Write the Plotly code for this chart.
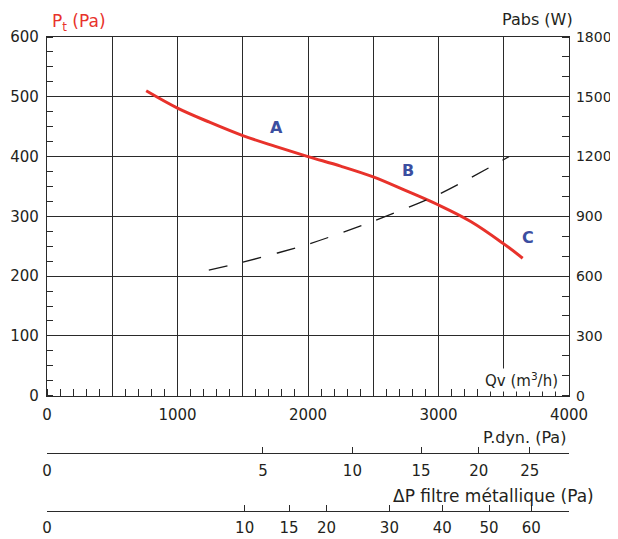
import numpy as np
import plotly.graph_objects as go

# ---- data ----
qv_pt = [760, 1000, 1250, 1500, 1750, 2000, 2250, 2500, 2750, 3000, 3250, 3500, 3645]
pt = [510, 481, 457, 435, 417, 400, 384, 366, 343, 319, 291, 254, 230]

qv_pabs = [1240, 1500, 2000, 2500, 3000, 3540]
pabs = [630, 670, 760, 876, 1010, 1200]

zone_labels = ["A", "B", "C"]
zone_qv = [1760, 2765, 3685]
zone_pt = [448, 377, 265]

x_labels = [0, 1000, 2000, 3000, 4000]
y_left_ticks = [0, 100, 200, 300, 400, 500, 600]
y_right_ticks = [0, 300, 600, 900, 1200, 1500, 1800]

pdyn_ticks = [0, 5, 10, 15, 20, 25]
dpfilt_ticks = [0, 10, 15, 20, 30, 40, 50, 60]
K_DYN = 740.0    # Qv (m3/h) per sqrt(Pa) for dynamic pressure scale
K_FILT = 479.0   # Qv (m3/h) per sqrt(Pa) for filter pressure drop scale

# ---- layout geometry (page has an 8px body margin) ----
OFF = 8
W, H = 618 - OFF, 539 - OFF
ML = 47 - OFF
MR = W - (569 - OFF)
MT = 37 - OFF
MB = H - (511 - OFF)
PW = W - ML - MR
PH = H - MT - MB


def fx(px):
    return (px - OFF - ML) / PW


def fy(py):
    return (H - MB - (py - OFF)) / PH


INK = "#231f20"
GRID = "#2a2a2a"
RED = "#e8322b"
BLUE = "#3b4ea0"
FONT = "DejaVu Sans, Verdana, sans-serif"

fig = go.Figure()

fig.add_trace(go.Scatter(
    x=qv_pt, y=pt, mode="lines", line=dict(color=RED, width=3, shape="spline", smoothing=1.0),
    hoverinfo="skip", showlegend=False, xaxis="x", yaxis="y"))

fig.add_trace(go.Scatter(
    x=qv_pabs, y=pabs, mode="lines",
    line=dict(color="#1a1a1a", width=1.3, dash="19px,16px", shape="spline", smoothing=0.8),
    hoverinfo="skip", showlegend=False, xaxis="x", yaxis="y2"))

# dummy (invisible) traces to register the extra scales
for xa in ["x2", "x3", "x4"]:
    fig.add_trace(go.Scatter(x=[0], y=[0], mode="markers", marker=dict(opacity=0),
                             hoverinfo="skip", showlegend=False, xaxis=xa, yaxis="y"))

tickfont = dict(family=FONT, size=15, color=INK)

fig.update_layout(
    template="none",
    width=W, height=H,
    margin=dict(l=ML, r=MR, t=MT, b=MB, pad=0),
    paper_bgcolor="white", plot_bgcolor="white",
    font=dict(family=FONT, color=INK),
    xaxis=dict(
        range=[0, 4000], tickmode="array", tickvals=x_labels,
        showgrid=False, zeroline=False, automargin=False,
        showline=True, linecolor=GRID, linewidth=1.3, mirror=True,
        ticks="", tickfont=tickfont, ticklabelstandoff=5,
        minor=dict(tickmode="linear", tick0=0, dtick=100, ticks="inside", ticklen=7,
                   tickcolor=GRID, tickwidth=1, showgrid=False),
        anchor="y", domain=[0, 1],
    ),
    xaxis4=dict(
        range=[0, 4000], overlaying="x", anchor="y", tickmode="linear", tick0=0, dtick=500,
        showgrid=True, gridcolor=GRID, gridwidth=1.2, zeroline=False, automargin=False,
        showticklabels=False, ticks="", showline=False,
    ),
    yaxis=dict(
        range=[0, 600], tickmode="array", tickvals=y_left_ticks,
        showgrid=True, gridcolor=GRID, gridwidth=1.2, zeroline=False, automargin=False,
        showline=True, linecolor=GRID, linewidth=1.3, mirror=True,
        ticks="", tickfont=tickfont, ticklabelstandoff=4,
        minor=dict(tickmode="linear", tick0=0, dtick=25, ticks="inside", ticklen=6,
                   tickcolor=GRID, tickwidth=1, showgrid=False),
        domain=[fy(395.7), 1], anchor="x",
    ),
    yaxis2=dict(
        range=[0, 1800], tickmode="array", tickvals=y_right_ticks,
        overlaying="y", side="right", anchor="x", automargin=False,
        showgrid=False, zeroline=False, showline=True, linecolor=GRID, linewidth=1.3,
        ticks="", tickfont=dict(family=FONT, size=14, color=INK), ticklabelstandoff=3,
        minor=dict(tickmode="linear", tick0=0, dtick=100, ticks="inside", ticklen=7,
                   tickcolor=GRID, tickwidth=1, showgrid=False),
    ),
    xaxis2=dict(
        range=[0, 4000], overlaying="x", anchor="free", position=fy(452.7), side="bottom",
        tickmode="array", tickvals=[K_DYN * np.sqrt(v) for v in pdyn_ticks],
        ticktext=[str(v) for v in pdyn_ticks], automargin=False,
        ticks="inside", ticklen=6, tickcolor=GRID, tickwidth=1, ticklabelstandoff=4,
        showgrid=False, zeroline=False, showline=True, linecolor=GRID, linewidth=1.3,
        tickfont=tickfont,
    ),
    xaxis3=dict(
        range=[0, 4000], overlaying="x", anchor="free", position=fy(511), side="bottom",
        tickmode="array", tickvals=[K_FILT * np.sqrt(v) for v in dpfilt_ticks],
        ticktext=[str(v) for v in dpfilt_ticks], automargin=False,
        ticks="inside", ticklen=6, tickcolor=GRID, tickwidth=1, ticklabelstandoff=3,
        showgrid=False, zeroline=False, showline=True, linecolor=GRID, linewidth=1.3,
        tickfont=tickfont,
    ),
)

annots = []
for lab, qx, py in zip(zone_labels, zone_qv, zone_pt):
    annots.append(dict(x=qx, y=py, xref="x", yref="y", text="<b>%s</b>" % lab, showarrow=False,
                       font=dict(family=FONT, size=16, color=BLUE)))

annots.append(dict(x=fx(50), y=1.0 + (MT - 1) / PH, xref="paper", yref="paper",
                   xanchor="left", yanchor="top",
                   text="P<sub>t</sub> (Pa)", showarrow=False,
                   font=dict(family=FONT, size=17, color=RED)))
annots.append(dict(x=fx(575), y=fy(19), xref="paper", yref="paper", xanchor="right", yanchor="middle",
                   text="Pabs (W)", showarrow=False, font=dict(family=FONT, size=16, color=INK)))
annots.append(dict(x=fx(560), y=fy(380), xref="paper", yref="paper", xanchor="right", yanchor="middle",
                   text="Qv (m<sup>3</sup>/h)", showarrow=False, bgcolor="white", borderpad=1,
                   font=dict(family=FONT, size=15, color=INK)))
annots.append(dict(x=fx(568), y=fy(437), xref="paper", yref="paper", xanchor="right", yanchor="middle",
                   text="P.dyn. (Pa)", showarrow=False, font=dict(family=FONT, size=16, color=INK)))
annots.append(dict(x=fx(596), y=fy(496), xref="paper", yref="paper", xanchor="right", yanchor="middle",
                   text="ΔP filtre métallique (Pa)", showarrow=False,
                   font=dict(family=FONT, size=17, color=INK)))

fig.update_layout(annotations=annots)

fig.write_html("out.html")
